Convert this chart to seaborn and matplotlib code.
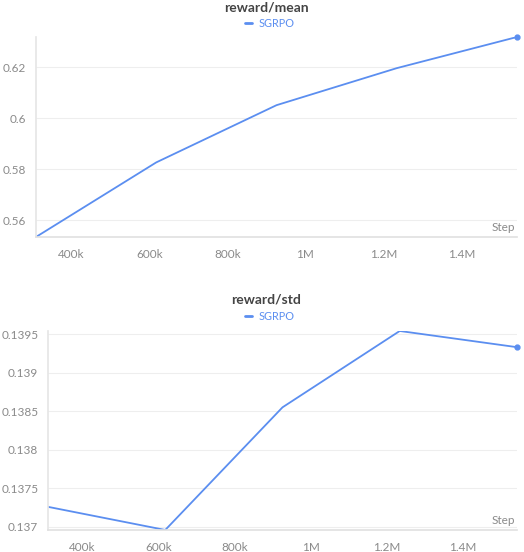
import numpy as np
import pandas as pd
import matplotlib
matplotlib.use("Agg")
import matplotlib.pyplot as plt
import seaborn as sns
from matplotlib.ticker import FuncFormatter, FixedLocator
from matplotlib.lines import Line2D

sns.set_theme(style="white")
plt.rcParams["font.family"] = ["Lato", "DejaVu Sans"]

steps = [310000, 618000, 926000, 1234000, 1542000]
reward_mean = [0.5535, 0.5827, 0.6051, 0.6196, 0.6318]
reward_std = [0.13726, 0.13696, 0.13855, 0.13954, 0.13933]
run_name = "SGRPO"
line_color = "#5b8ef0"

x_ticks = [400000, 600000, 800000, 1000000, 1200000, 1400000]
mean_ticks = [0.56, 0.58, 0.60, 0.62]
std_ticks = [0.137, 0.1375, 0.138, 0.1385, 0.139, 0.1395]


def fmt_step(v, pos):
    if v >= 1e6:
        s = f"{v / 1e6:.1f}".rstrip("0").rstrip(".")
        return s + "M"
    return f"{int(v / 1e3)}k"


def fmt_y(v, pos):
    return f"{v:.4f}".rstrip("0").rstrip(".")


fig = plt.figure(figsize=(5.24, 5.52), dpi=100)
ax1 = fig.add_axes([0.0687, 0.5707, 0.918, 0.3623])
ax2 = fig.add_axes([0.0916, 0.0399, 0.895, 0.3605])

panels = [
    (ax1, reward_mean, "reward/mean", mean_ticks, 0.986, 0.958),
    (ax2, reward_std, "reward/std", std_ticks, 0.457, 0.427),
]

for ax, vals, title, yt, ty, ly in panels:
    df = pd.DataFrame({"step": steps, "value": vals})
    sns.lineplot(data=df, x="step", y="value", ax=ax, color=line_color, linewidth=1.3)
    ax.plot(steps[-1], vals[-1], "o", color=line_color, markersize=3.5, clip_on=False)
    ax.set_xlim(steps[0], steps[-1])
    ax.set_ylim(min(vals), max(vals))
    ax.xaxis.set_major_locator(FixedLocator(x_ticks))
    ax.yaxis.set_major_locator(FixedLocator(yt))
    ax.xaxis.set_major_formatter(FuncFormatter(fmt_step))
    ax.yaxis.set_major_formatter(FuncFormatter(fmt_y))
    ax.set_xlabel("")
    ax.set_ylabel("")
    ax.grid(axis="y", color="#eeeeee", linewidth=0.8)
    for side in ["top", "right"]:
        ax.spines[side].set_visible(False)
    ax.spines["left"].set_color("#e6e6e6")
    ax.spines["bottom"].set_color("#e0e0e0")
    ax.spines["bottom"].set_linewidth(1.2)
    ax.tick_params(axis="x", direction="in", length=5, color="#dddddd", labelsize=8.5,
                   labelcolor="#8a8a8a", pad=9)
    ax.tick_params(axis="y", direction="out", length=4, color="#dddddd", labelsize=8.5,
                   labelcolor="#8a8a8a", pad=3)
    ax.text(0.995, 0.02, "Step", transform=ax.transAxes, ha="right", va="bottom",
            fontsize=8.5, color="#8a8a8a")
    fig.text(0.508, ty, title, ha="center", va="center", fontsize=10,
             fontweight="bold", color="#444444")
    fig.add_artist(Line2D([0.468, 0.481], [ly, ly], transform=fig.transFigure,
                          color=line_color, linewidth=2))
    fig.text(0.494, ly, run_name, ha="left", va="center", fontsize=7.8, color=line_color)

fig.savefig("out.png", dpi=100)
